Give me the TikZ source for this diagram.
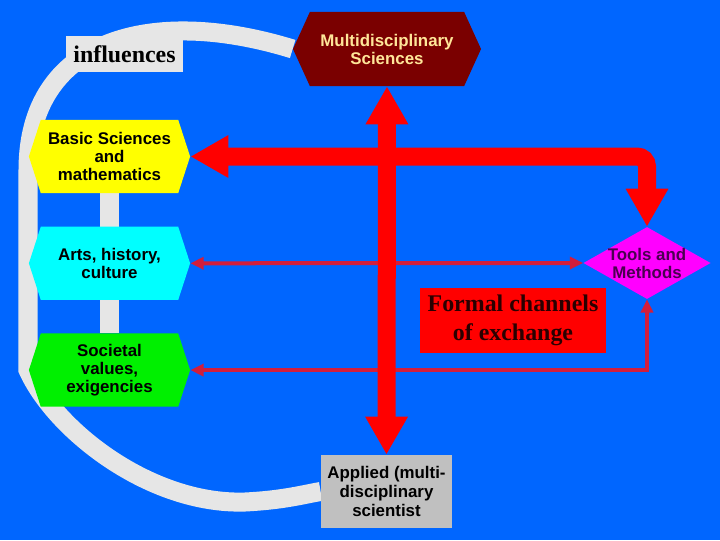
\documentclass[tikz,border=0pt]{standalone}
\usepackage{fontspec}
\setmainfont{Liberation Serif}
\setsansfont{Liberation Sans}
\usepackage{tikz}
\usetikzlibrary{arrows.meta,positioning,shapes.geometric,shapes.symbols,backgrounds}
\definecolor{BgBlue}{HTML}{0066FF}
\definecolor{BandGray}{HTML}{E6E6E6}
\definecolor{MultiRed}{HTML}{7A0000}
\definecolor{MultiText}{HTML}{FFE699}
\definecolor{BasicYellow}{HTML}{FFFF00}
\definecolor{ArtsCyan}{HTML}{00FFFF}
\definecolor{SocGreen}{HTML}{00F000}
\definecolor{ToolsPink}{HTML}{FF00FF}
\definecolor{ToolsText}{HTML}{4A0050}
\definecolor{ArrowRed}{HTML}{FF0000}
\definecolor{LinkRed}{HTML}{D21E3C}
\definecolor{FormalText}{HTML}{2A0000}
\definecolor{AppliedGray}{HTML}{C0C0C0}

\begin{document}
\begin{tikzpicture}[
        x=0.025cm,y=-0.025cm,
        every node/.style={font=\sffamily\bfseries\fontsize{12}{12.8}\selectfont},
        hexbox/.style={signal,signal to=east and west,signal pointer angle=144,align=center,minimum width=4.03cm,minimum height=1.83cm,inner sep=0pt},
        plainbox/.style={rectangle,align=center,inner sep=0pt},
        bigarrow/.style={draw=ArrowRed,line width=0.45cm,{Triangle[length=0.95cm,width=1cm]}-{Triangle[length=0.95cm,width=1cm]}},
        link/.style={draw=LinkRed,line width=0.1cm,{Triangle[length=0.33cm,width=0.3cm]}-{Triangle[length=0.33cm,width=0.3cm]}},
        band/.style={draw=BandGray,line width=0.475cm}
      ]
      \useasboundingbox (0,0) rectangle (720,540);

      \node[hexbox,signal pointer angle=131,minimum width=4.7cm,minimum height=1.85cm,fill=MultiRed,text=MultiText] (multi) at (387,49) {Multidisciplinary\\Sciences};
      \node[hexbox,fill=BasicYellow] (basic) at (109.5,156.5) {Basic Sciences\\and\\mathematics};
      \node[hexbox,fill=ArtsCyan,below=0.825cm of basic] (arts) {Arts, history,\\culture};
      \node[hexbox,fill=SocGreen,below=0.825cm of arts] (soc) {Societal\\values,\\exigencies};
      \node[diamond,fill=ToolsPink,minimum width=3.18cm,minimum height=1.8cm,inner sep=0pt] (tools) at (647,263) {};
      \node[text=ToolsText,align=center] (toolslbl) at (tools) {Tools and\\Methods};
      \node[plainbox,fill=ArrowRed,text=FormalText,minimum width=4.65cm,minimum height=1.63cm,
            font=\rmfamily\bfseries\fontsize{17}{21}\selectfont] (formal) at (513,320.5) {Formal channels\\of exchange};
      \node[plainbox,fill=AppliedGray,minimum width=3.28cm,minimum height=1.83cm,
            font=\sffamily\bfseries\fontsize{12}{13.5}\selectfont] (applied) at (386.5,491.5) {Applied (multi-\\disciplinary\\scientist};
      \node[plainbox,fill=BandGray,minimum width=2.93cm,minimum height=0.9cm,
            font=\rmfamily\bfseries\fontsize{17}{20}\selectfont] (infl) at (124.5,54) {influences};

      % the influence ring behind everything
      \begin{pgfonlayer}{background}
        \fill[BgBlue] (0,0) rectangle (720,540);
        \draw[band] (multi.west) .. controls (150,5) and (28,40) .. (28,170) -- (28,370)
          .. controls (55,430) and (150,505) .. (245,502) .. controls (285,500) and (305,494) .. (applied.west);
        \draw[band] (basic.south) -- (soc.north);
      \end{pgfonlayer}

      \draw[link] (arts.east) -- (tools.west);
      \draw[link] (soc.east) -| (tools.south);
      \draw[bigarrow] (multi.south) -- (applied.north);
      \draw[bigarrow,rounded corners=0.25cm] (basic.east) -| (tools.north);
    \end{tikzpicture}
\end{document}
